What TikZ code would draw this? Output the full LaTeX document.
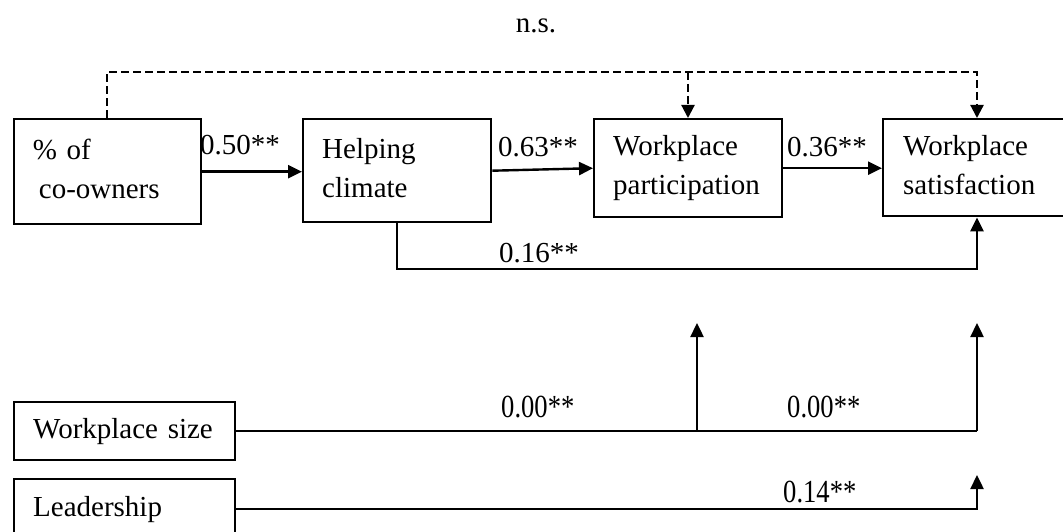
\documentclass[tikz,border=0pt]{standalone}
\usepackage{fontspec}
\usepackage{graphicx}
\setmainfont{Liberation Serif}
\usetikzlibrary{arrows.meta}
\tikzset{
  box/.style={draw, line width=2.4pt, inner xsep=19pt, inner ysep=0pt, align=left, anchor=north west,
    font=\fontsize{29}{39}\selectfont},
  arr/.style={line width=2.4pt, -{Triangle[length=14pt,width=13pt]}},
  plain/.style={line width=2.4pt},
  dsh/.style={line width=2.2pt, dash pattern=on 8pt off 4pt},
  dsharr/.style={dsh, -{Triangle[length=13pt,width=13pt]}},
  lbl/.style={anchor=base west, inner sep=0pt, font=\fontsize{29}{35}\selectfont},
  lblb/.style={anchor=base west, inner sep=0pt, font=\fontsize{28}{34}\selectfont},
}
\begin{document}
\begin{tikzpicture}[x=1pt, y=-1pt]
\useasboundingbox (0,0) rectangle (1063,532);
\clip (0,0) rectangle (1063,532);

% boxes
\node[box, text width=149pt, minimum height=105pt] (b1) at (12.7,118) {\% of\\\hspace*{6pt}co-owners\vphantom{p}};
\node[box, text width=150pt, minimum height=103pt] (b2) at (302,118) {Helping\\climate\vphantom{p}};
\node[box, text width=150pt, minimum height=98pt] (b3) at (593,118) {Workplace\\participation};
\node[box, text width=157pt, inner xsep=20pt, minimum height=97pt] (b4) at (882,118) {Workplace\\satisfaction\vphantom{p}};
\node[box, text width=183pt, minimum height=58pt] (ws) at (13,401) {Workplace size};
\node[box, text width=183pt, minimum height=60pt] (ld) at (13,478) {Leadership};

% helper coordinates
\coordinate (d1) at (107,72);
\coordinate (d2) at (688,72);
\coordinate (d3) at (977,72);
\coordinate (c1) at (397,269);
\coordinate (c2) at (977,269);
\coordinate (u1) at (697,323);
\coordinate (u2) at (977,323);
\coordinate (u3) at (977,475);

% main chain
\draw[arr] (b1.east) -- (b1.east -| b2.west);
\draw[arr] (b2.east) -- (b3.west);
\draw[arr] (b3.east) -- (b3.east -| b4.west);

% dashed n.s. path
\draw[dsharr] (d1 |- b1.north) -- (d1) -- (d3) -- (d3 |- b4.north);
\draw[dsharr] (d2) -- (d2 |- b3.north);

% helping climate -> satisfaction
\draw[arr] (c1 |- b2.south) -- (c1) -- (c2) -- (c2 |- b4.south);

% workplace size
\draw[plain] (ws.east) -- (ws.east -| u2);
\draw[arr] (ws.east -| u2) -- (u2);
\draw[arr] (ws.east -| u1) -- (u1);

% leadership
\draw[arr] (ld.east) -- (ld.east -| u3) -- (u3);

% labels
\node[lbl, anchor=base] (ns) at (536,33) {n.s.};
\node[lbl] (l1) at (200,155) {0.50**};
\node[lbl] (l2) at (498,157) {0.63**};
\node[lbl] (l3) at (787,157) {0.36**};
\node[lbl] (l4) at (499,262) {0.16**};
\node[lblb] (l5) at (501,417) {\scalebox{0.95}[1.15]{0.00**}};
\node[lblb] (l6) at (787,417) {\scalebox{0.95}[1.15]{0.00**}};
\node[lblb] (l7) at (783,502) {\scalebox{0.95}[1.15]{0.14**}};
\end{tikzpicture}
\end{document}
